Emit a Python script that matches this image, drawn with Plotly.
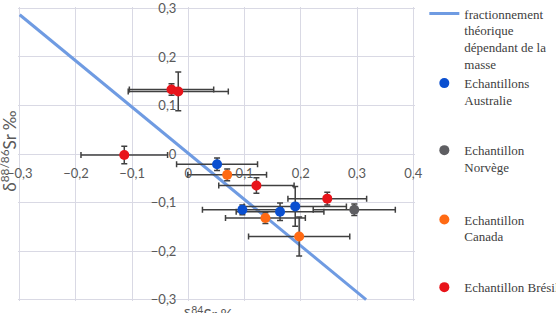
import plotly.graph_objects as go

# theoretical mass-dependent fractionation line
line_x = [-0.30, 0.316]
line_y = [0.287, -0.30]

aus_x = [0.051, 0.096, 0.163, 0.190]
aus_y = [-0.021, -0.115, -0.119, -0.108]
aus_xerr = [0.072, 0.071, 0.078, 0.091]
aus_yerr = [0.013, 0.010, 0.018, 0.041]

nor_x = [0.295]
nor_y = [-0.115]
nor_xerr = [0.073]
nor_yerr = [0.012]

can_x = [0.069, 0.137, 0.197]
can_y = [-0.043, -0.132, -0.170]
can_xerr = [0.070, 0.071, 0.090]
can_yerr = [0.012, 0.011, 0.040]

bra_x = [-0.114, -0.030, -0.018, 0.121, 0.247]
bra_y = [-0.002, 0.133, 0.129, -0.065, -0.092]
bra_xerr = [0.077, 0.075, 0.089, 0.067, 0.070]
bra_yerr = [0.018, 0.012, 0.040, 0.016, 0.013]

x_ticks = [-0.3, -0.2, -0.1, 0, 0.1, 0.2, 0.3, 0.4]
y_ticks = [-0.3, -0.2, -0.1, 0, 0.1, 0.2, 0.3]

ERR = "#404040"
serif = "Liberation Serif"
sans = "Lato"

fig = go.Figure()

fig.add_trace(go.Scatter(
    x=line_x, y=line_y, mode="lines",
    line=dict(color="#6f9be2", width=3),
    name="fractionnement<br>théorique<br>dépendant de la<br>masse",
    legend="legend",
))

def pts(x, y, xe, ye, color, name, leg):
    fig.add_trace(go.Scatter(
        x=x, y=y, mode="markers",
        marker=dict(color=color, size=10),
        error_x=dict(type="data", array=xe, color=ERR, thickness=1.5, width=3),
        error_y=dict(type="data", array=ye, color=ERR, thickness=1.5, width=3),
        name=name, legend=leg,
    ))

pts(aus_x, aus_y, aus_xerr, aus_yerr, "#0a4fd0", "Echantillons<br>Australie", "legend2")
pts(nor_x, nor_y, nor_xerr, nor_yerr, "#5e5e62", "Echantillon<br>Norvège", "legend3")
pts(can_x, can_y, can_xerr, can_yerr, "#ff6a14", "Echantillon<br>Canada", "legend4")
pts(bra_x, bra_y, bra_xerr, bra_yerr, "#e8141a", "Echantillon Brésil", "legend5")

GRID = "#d9d9e4"
tickfont = dict(family=sans, size=13, color="#595959")

legfont = dict(family=serif, size=13, color="#404040")
def leg(y):
    return dict(x=1.0235, y=y, xanchor="left", yanchor="top", font=legfont,
                bgcolor="rgba(0,0,0,0)", valign="top", borderwidth=0)

fig.update_layout(
    width=556, height=313,
    font=dict(family=serif, size=13, color="#404040"),
    margin=dict(l=18.3, r=141.3, t=6.5, b=11.6, autoexpand=False),
    paper_bgcolor="white", plot_bgcolor="white",
    separators=", ",
    showlegend=True,
    legend=leg(1.029),
    legend2=leg(0.792),
    legend3=leg(0.564),
    legend4=leg(0.328),
    legend5=leg(0.098),
    xaxis=dict(
        range=[-0.303, 0.403], tickvals=x_ticks, showgrid=True, gridcolor=GRID, gridwidth=1,
        zeroline=True, zerolinecolor=GRID, zerolinewidth=1,
        anchor="free", position=0.303 / 0.606, showline=False, ticks="",
        tickfont=tickfont, ticklabelstandoff=10, automargin=False,
    ),
    yaxis=dict(
        range=[-0.303, 0.303], tickvals=y_ticks, showgrid=True, gridcolor=GRID, gridwidth=1,
        zeroline=True, zerolinecolor=GRID, zerolinewidth=1,
        anchor="free", position=0.303 / 0.706, showline=False, ticks="",
        tickfont=tickfont, ticklabelstandoff=12, automargin=False,
    ),
    annotations=[
        dict(text="δ<sup>88/86</sup>Sr ‰", xref="paper", yref="paper",
             x=-0.026, y=0.51, xanchor="center", yanchor="middle", textangle=-90,
             showarrow=False, font=dict(family=sans, size=17, color="#595959")),
        dict(text="δ<sup>84</sup>Sr ‰", xref="paper", yref="paper",
             x=0.486, y=-0.005, xanchor="center", yanchor="top",
             showarrow=False, font=dict(family=sans, size=15, color="#595959")),
    ],
)

fig.write_html("out.html")
